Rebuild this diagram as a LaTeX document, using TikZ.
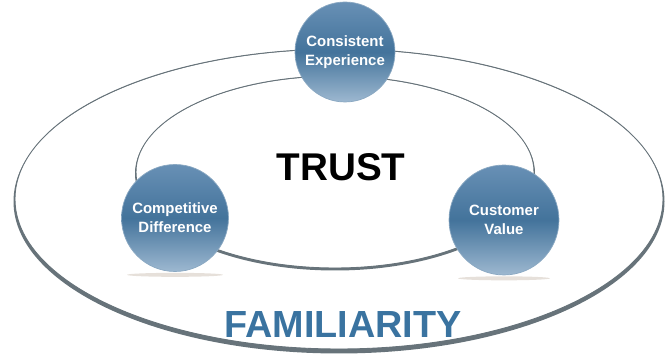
\documentclass[tikz,border=0pt]{standalone}
\usepackage{fontspec}
\setmainfont{Liberation Sans}
\usepackage{tikz}

\definecolor{ringgray}{HTML}{67737A}
\definecolor{bubbletop}{HTML}{6890B5}
\definecolor{bubblemid}{HTML}{43739B}
\definecolor{bubblebot}{HTML}{9DB8D0}
\definecolor{bubbleedge}{HTML}{8AA8C2}
\definecolor{famblue}{HTML}{3A73A0}
\definecolor{shadowtan}{HTML}{E6E0DA}

\begin{document}
\begin{tikzpicture}[x=0.02cm, y=0.02cm,
	bubble/.style={circle, draw=bubbleedge, line width=0.4pt, top color=bubbletop, bottom color=bubblebot, middle color=bubblemid, text=white, font=\bfseries\fontsize{8.5}{11}\selectfont, align=center, inner sep=0pt},
	ring/.style={draw=ringgray, line width=0.5pt}]
	\useasboundingbox (0,0) rectangle (670,364);

	% outer ring, heavier at the bottom
	\draw[ring] (339,165) ellipse [x radius=324, y radius=150];
	\fill[ringgray, even odd rule] (339,165) ellipse [x radius=324, y radius=150] (339,162.5) ellipse [x radius=325.5, y radius=152];

	% inner ring
	\draw[ring] (335,192) ellipse [x radius=199, y radius=96];
	\fill[ringgray, even odd rule] (335,192) ellipse [x radius=199, y radius=96] (335,190.5) ellipse [x radius=200, y radius=97];

	\node[bubble, minimum size=2cm] (ce) at (345,312) {Consistent\\Experience};
	\node[bubble, minimum size=2.14cm] (cd) at (175,146) {Competitive\\Difference};
	\node[bubble, minimum size=2.2cm] (cv) at (504,144) {Customer\\Value};

	\fill[shadowtan] (cd.south) ++(0,-3) ellipse [x radius=48, y radius=2];
	\fill[shadowtan] (cv.south) ++(0,-3) ellipse [x radius=46, y radius=2];

	\node[font=\bfseries\fontsize{22}{26}\selectfont] (trust) at (341,197) {TRUST};
	\node[text=famblue, font=\bfseries\fontsize{21.5}{26}\selectfont] (fam) at (343,39) {FAMILIARITY};

\end{tikzpicture}
\end{document}
